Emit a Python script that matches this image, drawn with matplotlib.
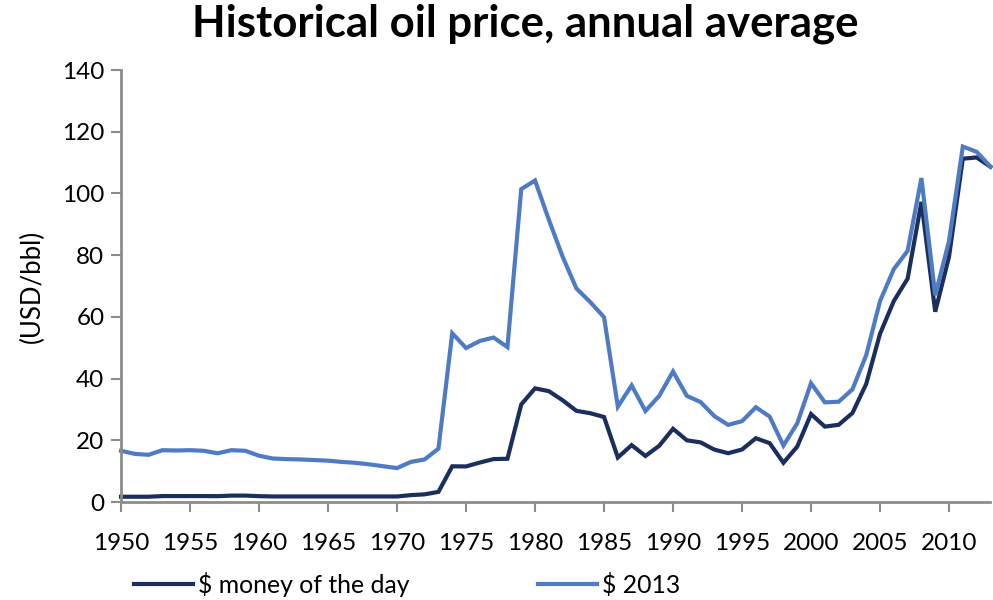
import matplotlib
matplotlib.use("Agg")
import matplotlib.pyplot as plt

plt.rcParams['font.family'] = ['Lato', 'DejaVu Sans']

# --- DATA ---
years = list(range(1950, 2014))

money_of_day = [1.71, 1.71, 1.71, 1.93, 1.93, 1.93, 1.93, 1.90, 2.08, 2.08,
                1.90, 1.80, 1.80, 1.80, 1.80, 1.80, 1.80, 1.80, 1.80, 1.80,
                1.80, 2.24, 2.48, 3.29, 11.58, 11.53, 12.80, 13.92, 14.02, 31.61,
                36.83, 35.93, 32.97, 29.55, 28.78, 27.56, 14.43, 18.44, 14.92, 18.23,
                23.73, 20.00, 19.32, 16.97, 15.82, 17.02, 20.67, 19.09, 12.72, 17.97,
                28.50, 24.44, 25.02, 28.83, 38.27, 54.52, 65.14, 72.39, 97.26, 61.67,
                79.50, 111.26, 111.67, 108.66]

usd_2013 = [16.6, 15.6, 15.3, 16.8, 16.7, 16.8, 16.6, 15.8, 16.8, 16.6,
            15.0, 14.1, 13.9, 13.8, 13.6, 13.4, 13.0, 12.7, 12.2, 11.6,
            11.0, 13.0, 13.8, 17.3, 54.7, 49.9, 52.2, 53.3, 50.2, 101.4,
            104.2, 91.5, 79.5, 69.2, 64.8, 59.9, 30.9, 37.8, 29.5, 34.4,
            42.3, 34.4, 32.4, 27.8, 25.0, 26.2, 30.7, 27.7, 18.3, 25.5,
            38.5, 32.3, 32.5, 36.5, 47.6, 65.1, 75.5, 81.4, 105.0, 67.0,
            84.6, 115.2, 113.5, 108.7]

series_names = ["$ money of the day", "$ 2013"]
colors = ["#1B2F5E", "#4F7BC4"]

x_ticks = list(range(1950, 2011, 5))
y_ticks = list(range(0, 141, 20))

# --- PLOT ---
fig = plt.figure(figsize=(9.93, 6.0), dpi=100)
ax = fig.add_axes([0.1219, 0.1633, 0.8755, 0.72])

ax.plot(years, money_of_day, color=colors[0], linewidth=3.0,
        label=series_names[0], solid_joinstyle='miter', clip_on=False)
ax.plot(years, usd_2013, color=colors[1], linewidth=3.0,
        label=series_names[1], solid_joinstyle='miter', clip_on=False)

ax.set_xlim(1950, 2013)
ax.set_ylim(0, 140)
ax.set_xticks(x_ticks)
ax.set_yticks(y_ticks)
ax.tick_params(axis='both', labelsize=17.5, color='#8C8C8C', length=7,
               width=1.5, direction='out')
ax.tick_params(axis='x', pad=15)
ax.tick_params(axis='y', pad=5)

for side in ['top', 'right']:
    ax.spines[side].set_visible(False)
for side in ['left', 'bottom']:
    ax.spines[side].set_color('#8C8C8C')
    ax.spines[side].set_linewidth(2)

ax.set_ylabel('(USD/bbl)', fontsize=18.5, labelpad=12)
fig.suptitle('Historical oil price, annual average', fontsize=31.5,
             fontweight='bold', x=0.529, y=0.995)

fig.legend(loc='center', bbox_to_anchor=(0.41, 0.026), ncol=2,
           frameon=False, fontsize=17.8, handlelength=2.4,
           columnspacing=5.2, handletextpad=0.2)

fig.savefig('out.png', dpi=100)
